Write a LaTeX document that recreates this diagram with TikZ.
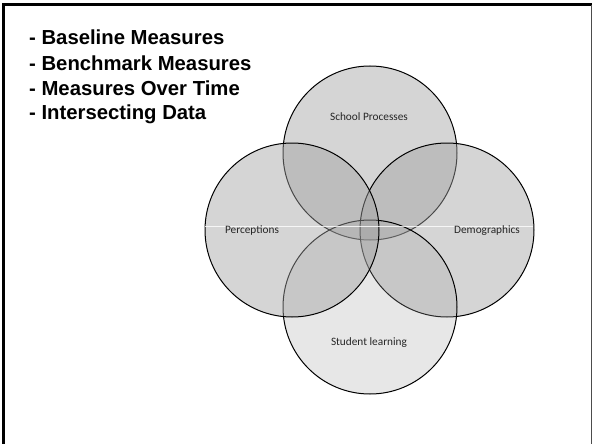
\documentclass[tikz,border=0pt]{standalone}
\usepackage{fontspec, tkz-euclide}
\setmainfont{Liberation Sans}
\newfontfamily\lblfont{Carlito}
\tikzset{>=stealth}
\tikzset{
  setring/.style={draw=black, line width=1pt, fill=black!37, fill opacity=0.45},
  setlabel/.style={font=\lblfont\fontsize{11.3}{13}\selectfont, text=black!85, inner sep=0pt},
  measure/.style={font=\bfseries\fontsize{20.3}{22}\selectfont, anchor=base west, inner sep=0pt}
}

\begin{document}
\begin{tikzpicture}[x=1pt,y=-1pt]
\useasboundingbox (0,0) rectangle (592,444);
\tkzDefPoints{370/153/S, 292/230/P, 447/230/D, 370/307/L}
% frame
\draw[line width=3pt] (3,444) -- (3,5) -- (591.5,5);
\draw[line width=0.8pt, black!70] (591.5,5) -- (591.5,444);
% list
\node[measure] (base) at (29,45) {- Baseline Measures};
\node[measure] (bench) at (29,70.5) {- Benchmark Measures};
\node[measure] (time) at (29,95.5) {- Measures Over Time};
\node[measure] (inter) at (29,119) {- Intersecting Data};
% circles
\draw[setring] (S) circle[radius=87pt];
\draw[setring] (D) circle[radius=87pt];
\draw[setring, fill opacity=0.26] (L) circle[radius=87pt];
\draw[setring] (P) circle[radius=87pt];
\draw[white, line width=0.6pt, opacity=0.8] (205,226) -- (533,226);
\node[setlabel] (proc) at (369,117) {School Processes};
\node[setlabel] (perc) at (252,231) {Perceptions};
\node[setlabel] (demo) at (487,231) {Demographics};
\node[setlabel] (learn) at (369,343) {Student learning};
\end{tikzpicture}
\end{document}
